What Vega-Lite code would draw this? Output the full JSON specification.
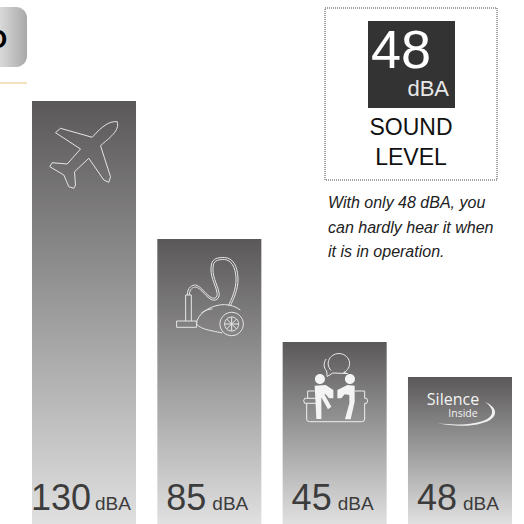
{"$schema":"https://vega.github.io/schema/vega-lite/v6.json","width":524,"height":524,"padding":0,"autosize":{"type":"none"},"background":"white","config":{"view":{"stroke":null},"text":{"baseline":"alphabetic"}},
"data":{"values":[{"source":"Airplane","level":130,"barHeight":423,"unit":"dBA"},{"source":"Vacuum cleaner","level":85,"barHeight":285,"unit":"dBA"},{"source":"Conversation","level":45,"barHeight":182,"unit":"dBA"},{"source":"Silence Inside","level":48,"barHeight":147,"unit":"dBA"}]},
"resolve":{"scale":{"x":"independent"}},
"layer":[
{"encoding":{"x":{"field":"source","type":"nominal","sort":null,"axis":null,"scale":{"type":"band","range":[32,512],"paddingInner":0.17,"paddingOuter":0}}},
"layer":[
{"mark":{"type":"bar","width":{"band":1},"color":{"gradient":"linear","x1":0,"y1":0,"x2":0,"y2":1,"stops":[{"offset":0,"color":"#5a5858"},{"offset":1,"color":"#e0e0e0"}]}},"encoding":{"y":{"field":"barHeight","type":"quantitative","axis":null,"scale":{"domain":[0,524],"range":[524,0],"nice":false,"zero":false}}}},
{"transform":[{"filter":"datum.level==130"}],"mark":{"type":"text","align":"right","baseline":"alphabetic","dx":7,"font":"Liberation Sans","fontSize":36,"fill":"#3c3c3c"},"encoding":{"text":{"field":"level"},"y":{"datum":14}}},
{"transform":[{"filter":"datum.level!=130"}],"mark":{"type":"text","align":"right","baseline":"alphabetic","dx":-3,"font":"Liberation Sans","fontSize":36,"fill":"#3c3c3c"},"encoding":{"text":{"field":"level"},"y":{"datum":14}}},
{"transform":[{"filter":"datum.level==130"}],"mark":{"type":"text","align":"left","baseline":"alphabetic","dx":11,"font":"Liberation Sans","fontSize":19,"fill":"#3c3c3c"},"encoding":{"text":{"field":"unit"},"y":{"datum":14}}},
{"transform":[{"filter":"datum.level!=130"}],"mark":{"type":"text","align":"left","baseline":"alphabetic","dx":3,"font":"Liberation Sans","fontSize":19,"fill":"#3c3c3c"},"encoding":{"text":{"field":"unit"},"y":{"datum":14}}},
{"transform":[{"filter":"datum.source=='Airplane'"}],"mark":{"type":"point","size":4,"filled":false,"opacity":1,"stroke":"#e6e6e6","strokeWidth":1,"shape":"M33.2 -33.3C26 -34 19 -30 8.2 -17.7L-23.5 -26.7L-28.5 -22.3L-3.5 -6L-16.8 9L-31.8 7.7L-34.2 11.7L-20.2 20L-15.2 31.7L-10.2 33.3L-8.5 30L-9.5 16.7L4.8 3.3L19.8 25L24.8 27.3L26.5 21.7L16.5 -9.3C25 -17 36 -24 33.2 -33.3Z"},"encoding":{"y":{"datum":369}}},
{"transform":[{"filter":"datum.source=='Vacuum cleaner'"}],"mark":{"type":"point","size":4,"filled":false,"opacity":1,"stroke":"#e6e6e6","strokeWidth":1,"shape":"M-32.7 21H-12.7V27.3H-32.7ZM-23.7 21V-5H-18V21M-22 -5C-22 -13 -17 -15 -13.7 -15C-8 -14 -3 -4 3 -2C7 -1 8.5 -4 7.5 -8C6 -16 0 -24 2 -35C3 -42 9 -42.5 15 -42.5C24 -42 28 -34 28.7 -22C29 -10 24 -1 21 6M-20 -5C-20 -11 -16 -13 -13.7 -13C-8 -12 -3 -2 3 0C8 1 11 -3 9.5 -8C8 -16 2 -24 4 -35C5 -40 10 -40.5 15 -40.5C22 -40 26 -33 26.7 -22C27 -10 22 -1 19 6M-13 24C-12 14 -1 7 10 5C17 4 24 5 31 10M-13 24C-8 30 5 31 13 33M34 24A11.7 11.7 0 1 1 10.6 24A11.7 11.7 0 1 1 34 24ZM29.3 24A7 7 0 1 1 15.3 24A7 7 0 1 1 29.3 24ZM15.3 24H29.3M22.3 17V31M17.3 19L27.3 29M27.3 19L17.3 29M-8 13C-4 10 0 9 3 9"},"encoding":{"y":{"datum":224}}},
{"transform":[{"filter":"datum.source=='Conversation'"}],"mark":{"type":"point","size":4,"filled":false,"opacity":1,"stroke":"#eeeeee","strokeWidth":1,"shape":"M-3.5 -24.5A10.7 10 0 1 1 9 -22.5L13 -21.5L-2 -22L-7.5 -18.5L-8 -24C-11.5 -27 -11 -33 -8.5 -36M-27 3.3V-4H-20M20 -4H30V3.3M-28 3.3H-30Q-32 5.8 -30 8.3H-28V24Q-28 26.7 -25 26.7H27Q30 26.7 30 24V8.3H32Q34 5.8 32 3.3H30M-28 3.3H-18M-28 8.3H-18"},"encoding":{"y":{"datum":129}}},
{"transform":[{"filter":"datum.source=='Conversation'"}],"mark":{"type":"point","size":4,"filled":true,"opacity":1,"fill":"#f4f4f4","strokeWidth":0,"shape":"M-19.7 -16A5 5 0 1 0 -9.7 -16A5 5 0 1 0 -19.7 -16ZM10.3 -16A5 5 0 1 0 20.3 -16A5 5 0 1 0 10.3 -16ZM-20 -9.3L-9 -10L-1.3 -5L-1.3 3.3L-5.7 3.3L-9 -0.7L-13.3 -0.7L-13.3 24L-18.3 24ZM-15 -0.7L-11 -2L-3.3 11.7L-6.7 14.3ZM2.7 -5L12.7 -10L20 -9.3L20 6.7L16 24.3L10.3 24.3L14.7 8.3L14.7 0L10 -0.7L6.7 3.3L2.7 3.3Z"},"encoding":{"y":{"datum":129}}},
{"transform":[{"filter":"datum.source=='Silence Inside'"}],"mark":{"type":"point","size":4,"filled":true,"opacity":1,"fill":"#f0f0f0","strokeWidth":0,"shape":"M24.7 1.7C37 7 38 15 30 20C18 27 -5 27 -22.7 23.3C-5 25.5 18 25 28 18.5C34 14 34 8 24.7 1.7Z"},"encoding":{"y":{"datum":124}}},
{"transform":[{"filter":"datum.source=='Silence Inside'"},{"calculate":"'Silence'","as":"brand"}],"mark":{"type":"text","align":"center","baseline":"alphabetic","dx":-7,"font":"Open Sans","fontSize":16,"fill":"#f4f4f4"},"encoding":{"text":{"field":"brand"},"y":{"datum":119}}},
{"transform":[{"filter":"datum.source=='Silence Inside'"},{"calculate":"'Inside'","as":"brand"}],"mark":{"type":"text","align":"center","baseline":"alphabetic","dx":3,"font":"Open Sans","fontSize":10.5,"fill":"#f4f4f4"},"encoding":{"text":{"field":"brand"},"y":{"datum":107}}}
]},
{"layer":[
{"data":{"values":[{"box":"badge"}]},"mark":{"type":"rect","cornerRadius":11,"color":{"gradient":"linear","x1":0,"y1":0,"x2":1,"y2":0,"stops":[{"offset":0,"color":"#ececec"},{"offset":0.5,"color":"#dcdcdc"},{"offset":1,"color":"#a8a8a8"}]}},"encoding":{"x":{"datum":-30,"type":"quantitative","axis":null,"scale":{"domain":[0,524],"range":[0,524],"nice":false,"zero":false}},"x2":{"datum":27},"y":{"datum":517,"type":"quantitative","axis":null},"y2":{"datum":457}}},
{"data":{"values":[{"glyph":"O"}]},"mark":{"type":"text","align":"center","baseline":"alphabetic","font":"Liberation Sans","fontWeight":"bold","fontSize":26,"fill":"#000000"},"encoding":{"text":{"field":"glyph"},"x":{"datum":-3,"type":"quantitative"},"y":{"datum":476}}},
{"data":{"values":[{"rule":"divider"}]},"mark":{"type":"rule","color":"#f0d8a8","strokeWidth":1.5},"encoding":{"x":{"datum":0,"type":"quantitative"},"x2":{"datum":27},"y":{"datum":441}}},
{"data":{"values":[{"box":"outline"}]},"mark":{"type":"rect","fillOpacity":0,"stroke":"#444444","strokeWidth":1,"strokeDash":[1,1]},"encoding":{"x":{"datum":325,"type":"quantitative"},"x2":{"datum":497},"y":{"datum":516},"y2":{"datum":344}}},
{"data":{"values":[{"box":"value"}]},"mark":{"type":"rect","color":"#333333"},"encoding":{"x":{"datum":368,"type":"quantitative"},"x2":{"datum":455},"y":{"datum":503},"y2":{"datum":416}}},
{"data":{"values":[{"t":"48"}]},"mark":{"type":"text","align":"center","baseline":"alphabetic","font":"Liberation Sans","fontSize":54,"fill":"#ffffff"},"encoding":{"text":{"field":"t"},"x":{"datum":401,"type":"quantitative"},"y":{"datum":456}}},
{"data":{"values":[{"t":"dBA"}]},"mark":{"type":"text","align":"right","baseline":"alphabetic","font":"Liberation Sans","fontSize":22,"fill":"#e8e8e8"},"encoding":{"text":{"field":"t"},"x":{"datum":449,"type":"quantitative"},"y":{"datum":428}}},
{"data":{"values":[{"t":"SOUND\nLEVEL"}]},"mark":{"type":"text","align":"center","baseline":"alphabetic","lineBreak":"\n","lineHeight":30,"font":"Liberation Sans","fontSize":23,"fill":"#111111"},"encoding":{"text":{"field":"t"},"x":{"datum":411,"type":"quantitative"},"y":{"datum":389}}},
{"data":{"values":[{"t":"With only 48 dBA, you\ncan hardly hear it when\nit is in operation."}]},"mark":{"type":"text","align":"left","baseline":"alphabetic","lineBreak":"\n","lineHeight":24.5,"font":"Liberation Sans","fontStyle":"italic","fontSize":16,"fill":"#222222"},"encoding":{"text":{"field":"t"},"x":{"datum":328,"type":"quantitative"},"y":{"datum":316}}}
]}
]}
